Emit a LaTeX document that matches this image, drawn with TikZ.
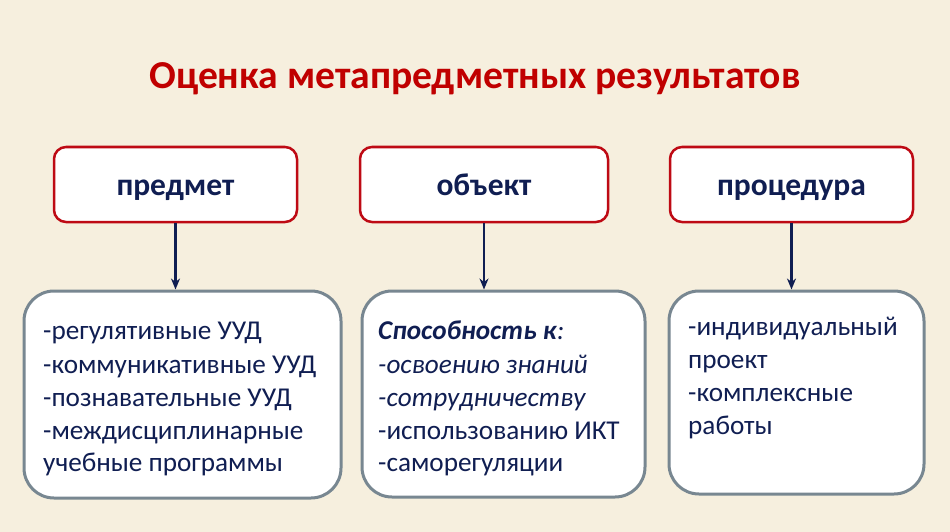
\documentclass[tikz,border=0pt]{standalone}
\usepackage{fontspec}
\setmainfont{Carlito}
\usetikzlibrary{arrows.meta}
\definecolor{bgcream}{RGB}{246,239,222}
\definecolor{titlered}{RGB}{192,0,0}
\definecolor{navy}{RGB}{16,30,82}
\definecolor{graybord}{RGB}{120,135,145}
\definecolor{redbord}{RGB}{190,10,20}
\tikzset{
  topbox/.style={draw=redbord, line width=2.5pt, fill=white, rounded corners=12pt, inner sep=0pt},
  botbox/.style={draw=graybord, line width=3pt, fill=white, rounded corners=30pt, inner sep=0pt},
  toplabel/.style={font=\fontsize{31.5}{36}\selectfont\bfseries, text=navy},
  bodyline/.style={font=\fontsize{27.2}{32}\selectfont, text=navy, anchor=base west, inner sep=0pt},
  connector/.style={draw=navy, line width=2.5pt, -{Stealth[length=11pt,width=9pt]}}
}
\begin{document}
\begin{tikzpicture}[x=1pt,y=-1pt]
\fill[bgcream] (0,0) rectangle (950,532);
\useasboundingbox (0,0) rectangle (950,532);
\node[font=\fontsize{39.6}{44}\selectfont\bfseries, text=titlered, anchor=base, inner sep=0pt] (title) at (475,89) {Оценка метапредметных результатов};

\node[topbox, minimum width=243pt, minimum height=75pt] (t1) at (175.5,184.5) {};
\node[topbox, minimum width=248pt, minimum height=75pt] (t2) at (484,184.5) {};
\node[topbox, minimum width=243pt, minimum height=75pt] (t3) at (791.5,184.5) {};
\node[toplabel, anchor=base] (l1) at (175.5,195) {предмет};
\node[toplabel, anchor=base] (l2) at (484,195) {объект};
\node[toplabel, anchor=base] (l3) at (791.5,195) {процедура};

\node[botbox, minimum width=317pt, minimum height=207pt] (b1) at (182.5,394.5) {};
\node[botbox, minimum width=283pt, minimum height=206pt] (b2) at (503.5,394) {};
\node[botbox, minimum width=255pt, minimum height=203pt] (b3) at (796.5,392.5) {};

\draw[connector] (t1.south -| l1) -- (l1 |- b1.north);
\draw[connector] (t2.south -| l2) -- (l2 |- b2.north);
\draw[connector] (t3.south -| l3) -- (l3 |- b3.north);

\node[bodyline] (a1) at (43,339) {-регулятивные УУД};
\node[bodyline] (a2) at (43,373) {-коммуникативные УУД};
\node[bodyline] (a3) at (43,406) {-познавательные УУД};
\node[bodyline] (a4) at (43,439) {-междисциплинарные};
\node[bodyline] (a5) at (43,471) {учебные программы};

\node[bodyline] (c1) at (378,339) {\textbf{\textit{Способность к}}\textit{:}};
\node[bodyline] (c2) at (378,373) {\textit{-освоению знаний}};
\node[bodyline] (c3) at (378,406) {\textit{-сотрудничеству}};
\node[bodyline] (c4) at (378,439) {-использованию ИКТ};
\node[bodyline] (c5) at (378,471) {-саморегуляции};

\node[bodyline] (d1) at (688,335) {-индивидуальный};
\node[bodyline] (d2) at (688,368) {проект};
\node[bodyline] (d3) at (688,401) {-комплексные};
\node[bodyline] (d4) at (688,434) {работы};
\end{tikzpicture}
\end{document}
